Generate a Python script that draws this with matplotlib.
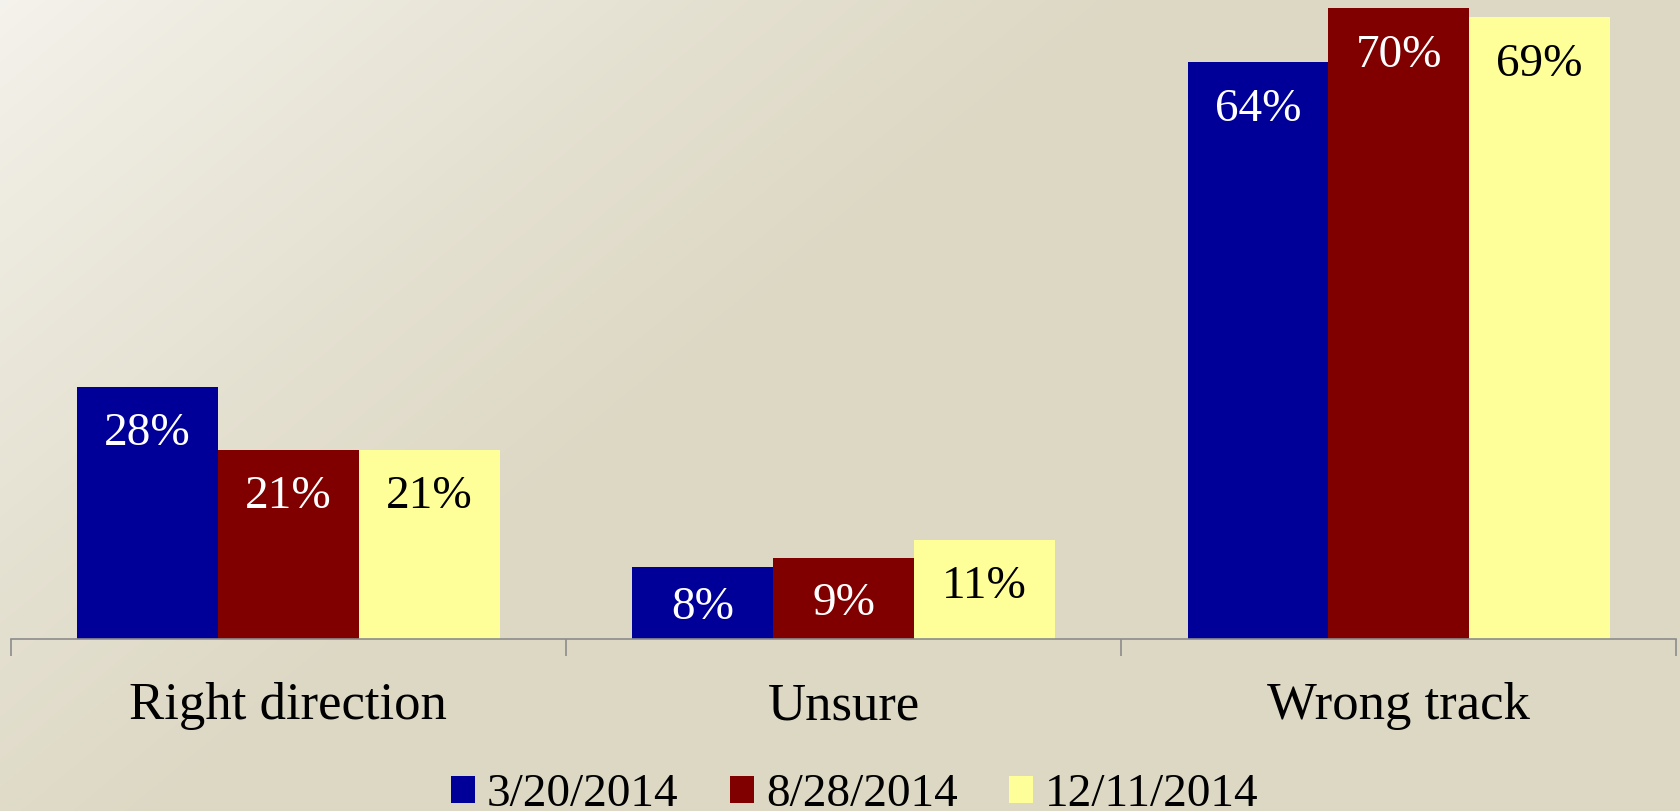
import numpy as np
import matplotlib
matplotlib.use("Agg")
import matplotlib.pyplot as plt

categories = ["Right direction", "Unsure", "Wrong track"]
series_names = ["3/20/2014", "8/28/2014", "12/11/2014"]
values_mar = [28, 8, 64]
values_aug = [21, 9, 70]
values_dec = [21, 11, 69]

series_values = [values_mar, values_aug, values_dec]
bar_colors = ["#000099", "#800000", "#FFFF99"]
label_colors = ["white", "white", "black"]

plt.rcParams['font.family'] = ['Liberation Serif', 'DejaVu Serif']

W, H = 1681, 811
fig = plt.figure(figsize=(W / 100, H / 100), dpi=100)

# background gradient
bg = fig.add_axes([0, 0, 1, 1], zorder=-10)
yy, xx = np.mgrid[0:H, 0:W]
t = np.clip((xx + yy * 1.2) / 1150.0, 0, 1) ** 0.8
light = np.array([245, 243, 237]) / 255.0
dark = np.array([221, 216, 196]) / 255.0
img = light[None, None, :] * (1 - t[..., None]) + dark[None, None, :] * t[..., None]
bg.imshow(img, aspect='auto', extent=[0, 1, 0, 1], origin='upper')
bg.axis('off')

axis_y = 639
left_px, right_px = 10.7, 1676.5
ax = fig.add_axes([left_px / W, (H - axis_y) / H, (right_px - left_px) / W, axis_y / H])
ax.patch.set_alpha(0)
px_per_unit = 9.01
ymax = axis_y / px_per_unit
ax.set_ylim(0, ymax)
ax.set_xlim(-0.5, len(categories) - 0.5)

w = 0.2537
x = np.arange(len(categories))
for j, (vals, col, lc) in enumerate(zip(series_values, bar_colors, label_colors)):
    pos = x + (j - 1) * w
    ax.bar(pos, vals, width=w, color=col, edgecolor='none', label=series_names[j], zorder=2)
    for xi, v in zip(pos, vals):
        depth = min(42 / px_per_unit, v / 2) + 5 / px_per_unit
        ax.text(xi, v - depth, f"{v}%", ha='center', va='center', color=lc,
                fontsize=34, zorder=3)

for s in ['top', 'right', 'left']:
    ax.spines[s].set_visible(False)
ax.spines['bottom'].set_color('#8c8c8c')
ax.spines['bottom'].set_linewidth(1.2)
ax.set_yticks([])
ax.set_xticks(np.arange(-0.5, len(categories), 1.0))
ax.set_xticklabels([])
ax.tick_params(axis='x', which='major', length=12.5, width=1.2, color='#8c8c8c', direction='out')
ax.set_xticks(x, minor=True)
ax.set_xticklabels(categories, minor=True, fontsize=38)
ax.tick_params(axis='x', which='minor', length=0, pad=31)

handles, labels = ax.get_legend_handles_labels()
fig.legend(handles, labels, loc='center', bbox_to_anchor=(0.5086, 0.020), ncol=3,
           frameon=False, fontsize=34, handlelength=0.5, handleheight=0.5,
           handletextpad=0.25, columnspacing=1.1, borderaxespad=0, borderpad=0)

fig.savefig("out.png", dpi=100)
